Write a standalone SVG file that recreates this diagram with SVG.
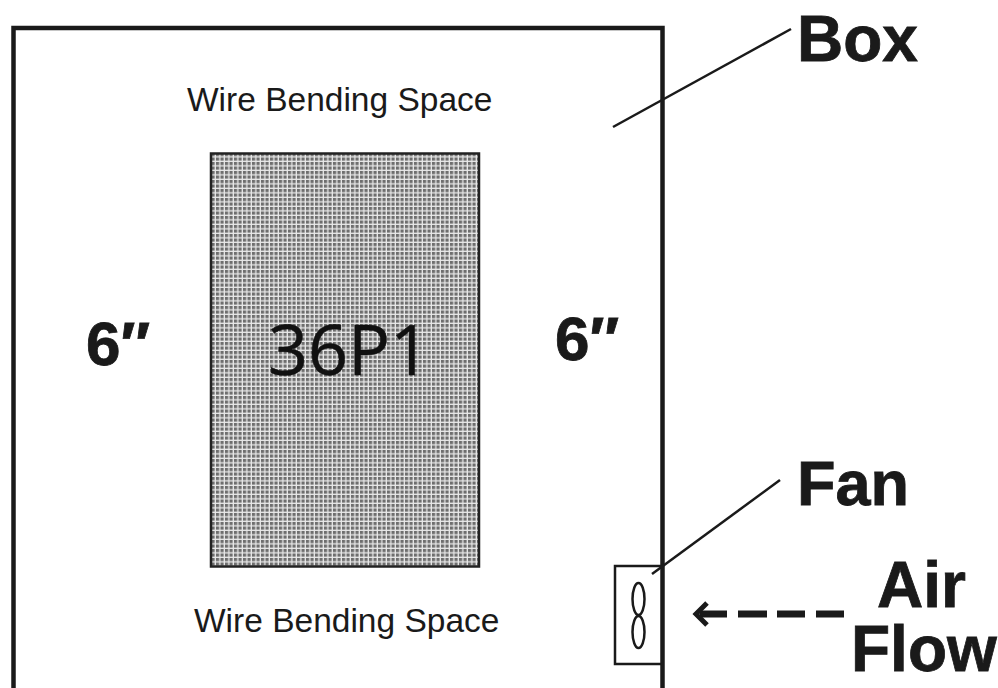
<svg xmlns="http://www.w3.org/2000/svg" width="998" height="688" viewBox="0 0 998 688">
<style>
.s{font-family:"Liberation Sans",Arial,sans-serif;fill:#1a1a1a}
.b{font-weight:bold;stroke:#1a1a1a;stroke-width:.8}
.l{fill:none;stroke:#1a1a1a}
</style>
<defs>
<pattern id="dots" width="4.5" height="4.5" patternUnits="userSpaceOnUse">
<rect width="4.5" height="4.5" fill="#e8e8e8"/>
<rect width="3.2" height="3.2" fill="#6e6e6e"/>
</pattern>
</defs>
<rect width="998" height="688" fill="#fff"/>
<g id="box">
<path class="l" stroke-width="4.500" d="M13.500 688V28H662.500V688"/>
<text class="s" x="187" y="110.500" font-size="33.500">Wire Bending Space</text>
<text class="s" x="194" y="631.500" font-size="33.500">Wire Bending Space</text>
</g>
<g id="unit">
<rect x="211" y="153.500" width="268" height="413" fill="url(#dots)" stroke="#222" stroke-width="2.500"/>
<text x="349" y="375" text-anchor="middle" font-family="'Open Sans',sans-serif" font-size="70" fill="#111" stroke="#111" stroke-width=".5">36P1</text>
</g>
<g id="dim-left"><text class="s b" x="86" y="365" font-size="62">6″</text></g>
<g id="dim-right"><text class="s b" x="555" y="360" font-size="62">6″</text></g>
<g id="fan">
<path class="l" stroke-width="2.500" d="M662 566H615V664H662"/>
<ellipse class="l" cx="638.500" cy="599" rx="6" ry="16" stroke="#333" stroke-width="2.500"/>
<ellipse class="l" cx="638.500" cy="632" rx="6" ry="16" stroke="#333" stroke-width="2.500"/>
</g>
<g id="label-box"><text class="s b" x="797" y="61" font-size="64">Box</text></g>
<g id="label-fan"><text class="s b" x="797" y="505" font-size="63">Fan</text></g>
<g id="label-air"><text class="s b" x="877" y="607" font-size="64">Air</text><text class="s b" x="851" y="671" font-size="64">Flow</text></g>
<g id="connectors">
<path class="l" stroke-width="2.500" d="M613 127L791 29"/>
<path class="l" stroke-width="2.500" d="M652 574L780 480"/>
<path class="l" stroke-width="7" d="M700 614H727M738 614H767M777 614H805M816 614H844"/>
<path class="l" stroke-width="5" d="M707 603L696 614L707 625"/>
</g>
</svg>
